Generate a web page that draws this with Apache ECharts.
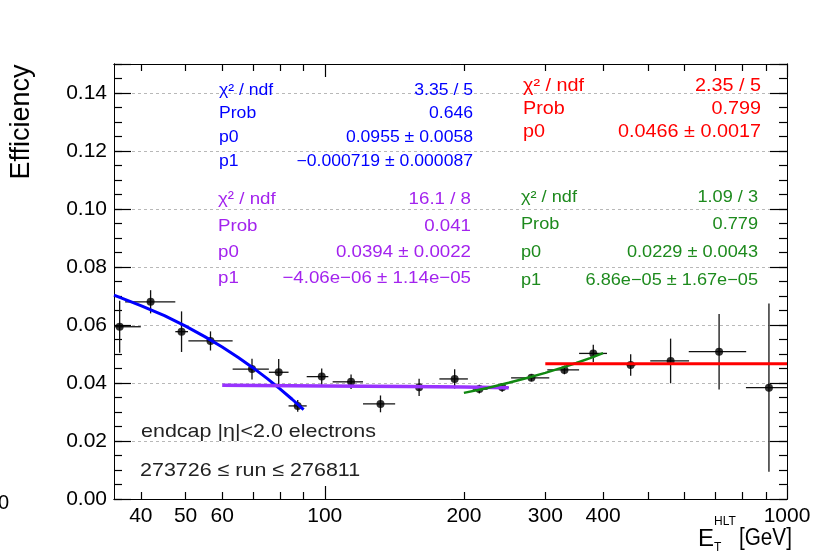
<!DOCTYPE html>
<html>
<head>
<meta charset="utf-8">
<script src="https://cdn.jsdelivr.net/npm/echarts@6/dist/echarts.min.js"></script>
<style>html,body{margin:0;}#c{width:820px;height:556px;}</style>
</head>
<body>
<div id="c"></div>
<script>
// ---- data ----
// points: centre E [GeV], efficiency, bin low, bin high, efficiency error
const ptE    = [36, 42, 49, 56.6, 69.6, 79.5, 87.4, 98.5, 114, 132, 160, 191, 216, 242, 280, 330, 381, 459, 560, 713, 914];
const ptEff  = [0.0594, 0.0680, 0.0577, 0.0545, 0.0448, 0.0437, 0.0321, 0.0422, 0.0404, 0.0328, 0.0385, 0.0414, 0.0379, 0.0385, 0.0418, 0.0445, 0.0502, 0.0462, 0.0476, 0.0508, 0.0384];
const ptELo  = [32, 37, 47.5, 50.7, 63.2, 75.7, 83.5, 91.4, 104, 121, 142, 177, 209, 226, 253, 303, 355, 450, 506, 613, 815];
const ptEHi  = [40, 47.5, 50.6, 63.2, 75.7, 83.5, 91.4, 101.8, 121, 142, 179, 204, 225, 250, 306, 355, 408, 470, 614, 816, 1000];
const ptErr  = [0.009, 0.004, 0.007, 0.0033, 0.0036, 0.0046, 0.002, 0.0028, 0.0025, 0.0029, 0.003, 0.0033, 0.0015, 0.0015, 0.0012, 0.0015, 0.003, 0.0037, 0.0077, 0.013, 0.029];

// fit curves as they appear in the picture
const blueFitE   = [35, 40, 45, 50, 55, 60, 65, 70, 75, 80, 85, 90];
const blueFitEff = [0.0703, 0.0667, 0.0632, 0.0596, 0.0560, 0.0524, 0.0488, 0.0452, 0.0416, 0.0380, 0.0344, 0.0308];
const purpleFitE   = [60, 100, 150, 200, 250];
const purpleFitEff = [0.0392, 0.0390, 0.0388, 0.0386, 0.0384];
const greenFitE   = [200, 225, 250, 275, 300, 325, 350, 375, 400];
const greenFitEff = [0.0366, 0.0383, 0.0401, 0.0418, 0.0435, 0.0452, 0.0469, 0.0486, 0.0503];
const redFitE   = [300, 1000];
const redFitEff = [0.0466, 0.0466];

// axis ticks / labels
const xLabelValues = [40, 50, 60, 100, 200, 300, 400, 1000];
const xMinorTicks  = [40, 50, 60, 70, 80, 90, 200, 300, 400, 500, 600, 700, 800, 900];
const xMajorTicks  = [100, 1000];
const yLabelValues = [0, 0.02, 0.04, 0.06, 0.08, 0.10, 0.12, 0.14];

// stat boxes
const blueStatNames  = ['χ² / ndf', 'Prob', 'p0', 'p1'];
const blueStatVals   = ['3.35 / 5', '0.646', '0.0955 ± 0.0058', '−0.000719 ± 0.000087'];
const redStatNames   = ['χ² / ndf', 'Prob', 'p0'];
const redStatVals    = ['2.35 / 5', '0.799', '0.0466 ± 0.0017'];
const purpleStatNames = ['χ² / ndf', 'Prob', 'p0', 'p1'];
const purpleStatVals  = ['16.1 / 8', '0.041', '0.0394 ± 0.0022', '−4.06e−06 ± 1.14e−05'];
const greenStatNames  = ['χ² / ndf', 'Prob', 'p0', 'p1'];
const greenStatVals   = ['1.09 / 3', '0.779', '0.0229 ± 0.0043', '6.86e−05 ± 1.67e−05'];

const noteLines = ['endcap |η|<2.0 electrons', '273726 ≤ run ≤ 276811'];

// ---- build ----
const FONT = 'Liberation Sans';
const points = ptE.map((e, i) => [e, ptEff[i], ptELo[i], ptEHi[i], ptErr[i]]);
const zip = (a, b) => a.map((v, i) => [v, b[i]]);

function statBox(names, vals, color, xl, xr, ys, fs, sx) {
  const out = [];
  names.forEach((n, i) => {
    out.push({type:'text', x:xl, y:ys[i], scaleX:sx, z:10,
      style:{text:n, fill:color, font: fs + 'px "' + FONT + '"', align:'left', verticalAlign:'middle'}});
    out.push({type:'text', x:xr, y:ys[i], scaleX:sx, z:10,
      style:{text:vals[i], fill:color, font: fs + 'px "' + FONT + '"', align:'right', verticalAlign:'middle'}});
  });
  return out;
}

const BLUE = '#0000ff', RED = '#ff0000', PURPLE = '#a323ee', GREEN = '#1d8a1d';

const graphics = [].concat(
  statBox(blueStatNames, blueStatVals, BLUE, 219, 473, [90.5, 114, 138, 162], 16, 1.1),
  statBox(redStatNames, redStatVals, RED, 523, 761, [86, 109, 132], 18, 1.1),
  statBox(purpleStatNames, purpleStatVals, PURPLE, 218, 471, [199, 226, 252, 278], 17, 1.1),
  statBox(greenStatNames, greenStatVals, GREEN, 521, 758, [197, 224, 252, 280], 16.5, 1.1),
  [
    {type:'text', x:141, y:431.5, scaleX:1.13, z:10, style:{text:noteLines[0], fill:'#222', font:'19px "' + FONT + '"', align:'left', verticalAlign:'middle'}},
    {type:'text', x:140, y:470.5, scaleX:1.13, z:10, style:{text:noteLines[1], fill:'#222', font:'19px "' + FONT + '"', align:'left', verticalAlign:'middle'}},
    {type:'text', x:22, y:122, rotation:Math.PI/2, z:10, style:{text:'Efficiency', fill:'#000', font:'27px "' + FONT + '"', align:'center', verticalAlign:'middle'}},
    {type:'text', x:698, y:539, z:10, style:{text:'E', fill:'#000', font:'24px "' + FONT + '"', align:'left', verticalAlign:'middle'}},
    {type:'text', x:714, y:522, z:10, style:{text:'HLT', fill:'#000', font:'12px "' + FONT + '"', align:'left', verticalAlign:'middle'}},
    {type:'text', x:714, y:548, z:10, style:{text:'T', fill:'#000', font:'12px "' + FONT + '"', align:'left', verticalAlign:'middle'}},
    {type:'text', x:739, y:539, scaleX:0.9, z:10, style:{text:'[GeV]', fill:'#000', font:'23px "' + FONT + '"', align:'left', verticalAlign:'middle'}},
    {type:'text', x:9, y:503, z:10, style:{text:'00', fill:'#000', font:'20px "' + FONT + '"', align:'right', verticalAlign:'middle'}}
  ]
);

function xAx(pos, ticks, len, labels) {
  return {
    type:'log', logBase:10, min:35, max:1000, position:pos, gridIndex:0,
    axisLine:{show:true, onZero:false, lineStyle:{color:'#000', width:1}},
    axisTick:{show:true, inside:true, length:len, customValues:ticks, lineStyle:{color:'#000', width:1.2}},
    axisLabel: labels ? {show:true, customValues:labels, color:'#000', fontFamily:FONT, fontSize:21, margin:7,
      formatter: v => String(Math.round(v))} : {show:false},
    splitLine:{show:false}, minorTick:{show:false}, minorSplitLine:{show:false}
  };
}
function yAx(pos, interval, len, labels, split) {
  return {
    type:'value', min:0, max:0.15, interval:interval, position:pos, gridIndex:0,
    axisLine:{show:true, onZero:false, lineStyle:{color:'#000', width:1}},
    axisTick:{show:true, inside:true, length:len, lineStyle:{color:'#000', width:1.2}},
    axisLabel: labels ? {show:true, customValues:labels, color:'#000', fontFamily:FONT, fontSize:21, margin:7,
      formatter: v => v.toFixed(2)} : {show:false},
    splitLine: split ? {show:true, lineStyle:{color:'#b8b8b8', type:[3,3], width:1}} : {show:false}
  };
}

function buildOption() {
  return {
    animation:false,
    title:{show:false, text:''},
    grid:{left:114, right:33, top:64, bottom:57},
    xAxis:[
      xAx('bottom', xMinorTicks, 7, xLabelValues),
      xAx('bottom', xMajorTicks, 13, null),
      xAx('top', xMinorTicks, 7, null),
      xAx('top', xMajorTicks, 13, null)
    ],
    yAxis:[
      yAx('left', 0.02, 17, yLabelValues, true),
      yAx('left', 0.005, 8, null, false),
      yAx('right', 0.02, 17, null, false),
      yAx('right', 0.005, 8, null, false)
    ],
    graphic: graphics,
    series:[
      {
        type:'custom', xAxisIndex:0, yAxisIndex:0, z:3,
        data: points,
        renderItem: function(params, api) {
          const xc = api.value(0), y = api.value(1), xl = api.value(2), xh = api.value(3), e = api.value(4);
          const cs = params.coordSys;
          const cl = q => Math.max(cs.x, Math.min(cs.x + cs.width, q));
          const pL = api.coord([xl, y]), pR = api.coord([xh, y]);
          const pT = api.coord([xc, y + e]), pB = api.coord([xc, y - e]);
          const st = {stroke:'#111', lineWidth:1.3};
          return {type:'group', children:[
            {type:'line', shape:{x1:cl(pL[0]), y1:pL[1], x2:cl(pR[0]), y2:pR[1]}, style:st},
            {type:'line', shape:{x1:pT[0], y1:pT[1], x2:pB[0], y2:pB[1]}, style:st}
          ]};
        }
      },
      {type:'scatter', xAxisIndex:0, yAxisIndex:0, z:4, symbol:'circle', symbolSize:8,
        itemStyle:{color:'#000'}, data: zip(ptE, ptEff)},
      {type:'line', xAxisIndex:0, yAxisIndex:0, z:5, showSymbol:false, symbol:'none',
        lineStyle:{color:BLUE, width:3}, data: zip(blueFitE, blueFitEff)},
      {type:'line', xAxisIndex:0, yAxisIndex:0, z:5, showSymbol:false, symbol:'none',
        lineStyle:{color:'#9933ff', width:3.5}, data: zip(purpleFitE, purpleFitEff)},
      {type:'line', xAxisIndex:0, yAxisIndex:0, z:5, showSymbol:false, symbol:'none',
        lineStyle:{color:'#118811', width:2.5}, data: zip(greenFitE, greenFitEff)},
      {type:'line', xAxisIndex:0, yAxisIndex:0, z:5, showSymbol:false, symbol:'none',
        lineStyle:{color:RED, width:3}, data: zip(redFitE, redFitEff)}
    ]
  };
}

echarts.init(document.getElementById('c')).setOption(buildOption());
</script>
</body>
</html>
